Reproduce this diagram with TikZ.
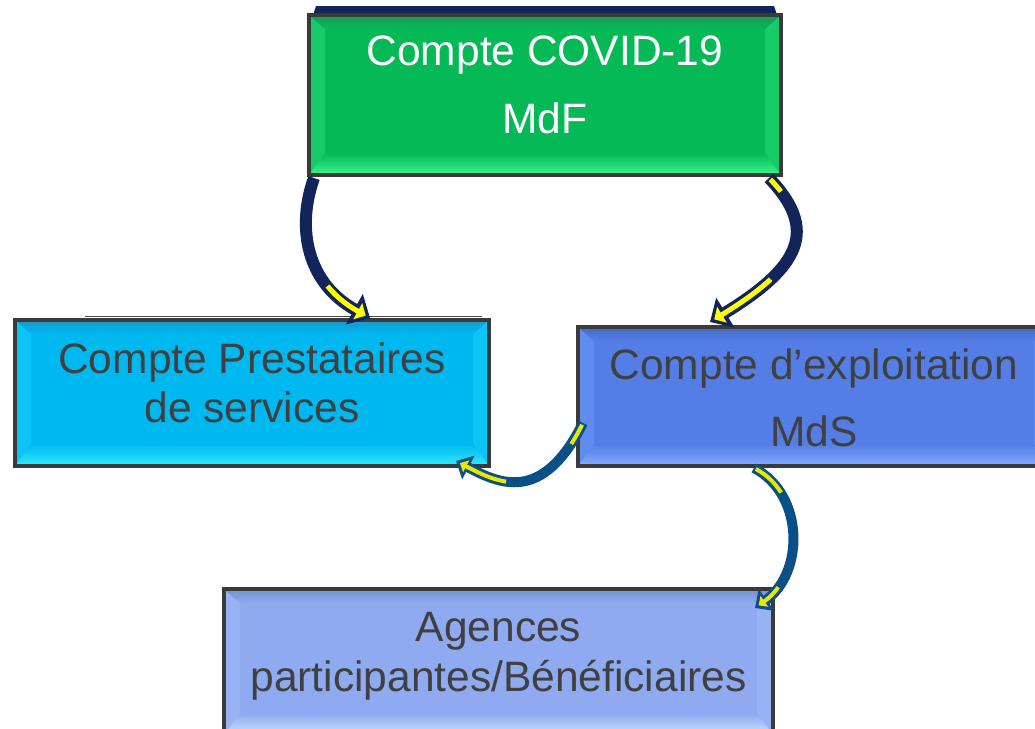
\documentclass[tikz,border=0pt]{standalone}
\usepackage{fontspec}
\setmainfont{Liberation Sans}
\usetikzlibrary{arrows.meta,calc,shadows}

% box colours: face, top bevel, side bevel, bottom bevel
\definecolor{gFace}{RGB}{5,186,86}
\definecolor{gTop}{RGB}{30,150,86}
\definecolor{gSide}{RGB}{22,204,104}
\definecolor{gBot}{RGB}{62,246,140}
\definecolor{cFace}{RGB}{0,184,240}
\definecolor{cTop}{RGB}{22,152,204}
\definecolor{cSide}{RGB}{12,196,246}
\definecolor{cBot}{RGB}{50,236,255}
\definecolor{bFace}{RGB}{84,126,230}
\definecolor{bTop}{RGB}{70,104,196}
\definecolor{bSide}{RGB}{96,140,240}
\definecolor{bBot}{RGB}{132,172,255}
\definecolor{lFace}{RGB}{143,170,240}
\definecolor{lTop}{RGB}{120,144,208}
\definecolor{lSide}{RGB}{152,178,246}
\definecolor{lBot}{RGB}{202,226,255}
\definecolor{edgegray}{RGB}{58,58,58}
\definecolor{txtgray}{RGB}{64,64,64}
\definecolor{navyarc}{RGB}{18,36,90}
\definecolor{tealarc}{RGB}{10,80,135}
\definecolor{yellowarc}{RGB}{255,255,0}
\definecolor{paleyellow}{RGB}{232,232,0}

\tikzset{
  x=1pt, y=1pt,
  bevel box/.style n args={4}{
    rectangle, draw=edgegray, line width=4pt, outer sep=0pt, inner sep=0pt,
    fill=#1,
    drop shadow={shadow xshift=2pt, shadow yshift=-2pt, opacity=.55, fill=black},
    path picture={
      \path (path picture bounding box.south west) coordinate (p-sw)
            (path picture bounding box.north east) coordinate (p-ne)
            (p-sw |- p-ne) coordinate (p-nw)
            (p-sw -| p-ne) coordinate (p-se);
      \fill[#3] (p-sw) -- ($(p-sw)+(16,22)$) -- ($(p-nw)+(16,-14)$) -- (p-nw) -- cycle;
      \fill[#3] (p-se) -- ($(p-se)+(-16,22)$) -- ($(p-ne)+(-16,-14)$) -- (p-ne) -- cycle;
      \shade[top color=#2, bottom color=#1]
        (p-nw) -- (p-ne) -- ($(p-ne)+(-16,-14)$) -- ($(p-nw)+(16,-14)$) -- cycle;
      \shade[top color=#1, bottom color=#4]
        (p-sw) -- (p-se) -- ($(p-se)+(-16,22)$) -- ($(p-sw)+(16,22)$) -- cycle;
    }
  },
  lbl/.style={font=\fontsize{42.5}{51}\selectfont, anchor=base, inner sep=0pt},
  arc navy/.style={draw=navyarc, line width=12pt, -{Triangle[length=18pt,width=34pt]}},
  arc navy core/.style={draw=yellowarc, line width=5pt, shorten <=2pt, shorten >=5pt,
    -{Triangle[length=9pt,width=18pt]}},
  arc teal/.style={draw=tealarc, line width=10pt, -{Triangle[length=14pt,width=26pt]}},
  arc teal core/.style={draw=paleyellow, line width=4pt, shorten <=2pt, shorten >=4.5pt,
    -{Triangle[length=7pt,width=13pt]}},
}

\begin{document}
\begin{tikzpicture}
\useasboundingbox (0,-728) rectangle (1035,0);
\clip (0,-728) rectangle (1035,0);

% dark band behind the top box
\fill[navyarc] (316,-6) -- (774,-6) -- (777,-15) -- (313,-15) -- cycle;
% thin rule above the left box
\draw[gray!60!black, line width=1.5pt] (85,-316.5) -- (482,-316.5);

% boxes
\node[bevel box={gFace}{gTop}{gSide}{gBot}, minimum width=472, minimum height=160]
  (mdf) at (545,-95) {};
\node[bevel box={cFace}{cTop}{cSide}{cBot}, minimum width=474, minimum height=146]
  (prest) at (252,-393) {};
\node[bevel box={bFace}{bTop}{bSide}{bBot}, minimum width=472, minimum height=139]
  (expl) at (814,-396.5) {};
\node[bevel box={lFace}{lTop}{lSide}{lBot}, minimum width=549, minimum height=146]
  (agences) at (498.5,-662) {};

% box texts
\node[lbl, text=white] (mdf-a) at (545,-65) {Compte COVID-19};
\node[lbl, text=white] (mdf-b) at (545,-133) {MdF};
\node[lbl, text=txtgray] (prest-a) at (252,-373) {Compte Prestataires};
\node[lbl, text=txtgray] (prest-b) at (252,-422) {de services};
\node[lbl, text=txtgray] (expl-a) at (814,-379) {Compte d’exploitation};
\node[lbl, text=txtgray] (expl-b) at (814,-446) {MdS};
\node[lbl, text=txtgray] (ag-a) at (498.5,-641) {Agences};
\node[lbl, text=txtgray] (ag-b) at (498.5,-691) {participantes/Bénéficiaires};

% curved arrows
\coordinate (a1s) at ($(mdf.south west)+(5,-3)$);
\coordinate (a1e) at ($(prest.north west)+(355,2)$);
\coordinate (a2s) at ($(mdf.south east)+(-12,-3)$);
\coordinate (a2e) at ($(expl.north west)+(132,5)$);
\coordinate (a3s) at ($(expl.west)+(5,-26.5)$);
\coordinate (a3e) at ($(prest.south east)+(-33,5)$);
\coordinate (a4s) at ($(expl.south west)+(176,-2)$);
\coordinate (a4e) at ($(agences.north east)+(-18,-19)$);

\draw[arc navy] (a1s) .. controls +(-18,-50) and +(-63,35) .. (a1e);
\draw[arc navy core, dash pattern=on 0pt off 112pt on 300pt]
  (a1s) .. controls +(-18,-50) and +(-63,35) .. (a1e);

\draw[arc navy] (a2s) .. controls +(50,-52) and +(90,55) .. (a2e);
\draw[arc navy core, dash pattern=on 16pt off 100pt on 300pt]
  (a2s) .. controls +(50,-52) and +(90,55) .. (a2e);

\draw[arc teal] (a3s) .. controls +(-41,-82) and +(42,-22) .. (a3e);
\draw[arc teal core, dash pattern=on 22pt off 80pt on 300pt]
  (a3s) .. controls +(-41,-82) and +(42,-22) .. (a3e);

\draw[arc teal] (a4s) .. controls +(51,-27) and +(49,35) .. (a4e);
\draw[arc teal core, dash pattern=on 35pt off 100pt on 300pt]
  (a4s) .. controls +(51,-27) and +(49,35) .. (a4e);
\end{tikzpicture}
\end{document}
